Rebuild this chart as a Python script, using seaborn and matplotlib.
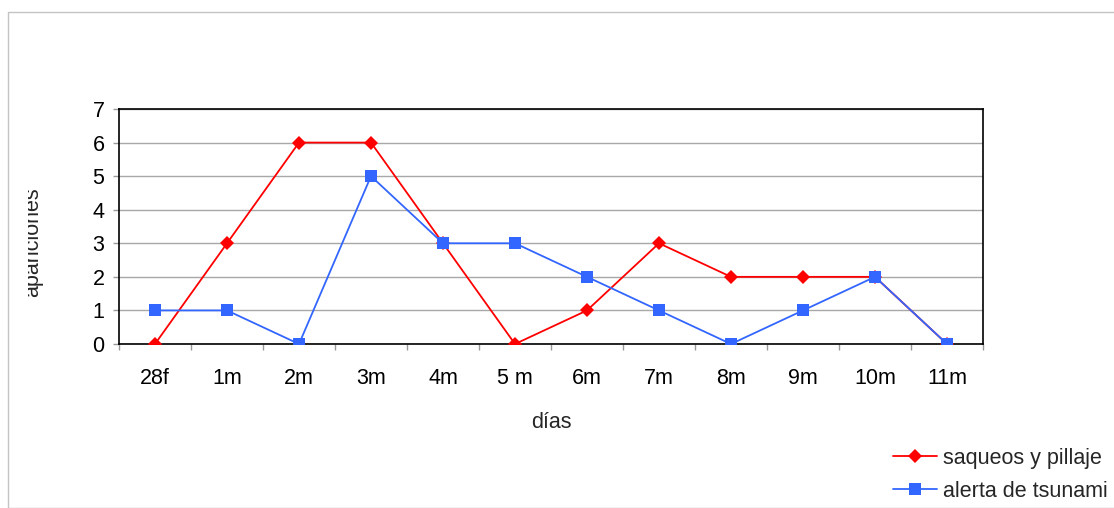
import matplotlib
matplotlib.use("Agg")
import matplotlib.pyplot as plt
from matplotlib.patches import Rectangle
from matplotlib.transforms import Bbox
from matplotlib.ticker import FixedLocator
import seaborn as sns
import pandas as pd

# Data
dias = ["28f", "1m", "2m", "3m", "4m", "5 m", "6m", "7m", "8m", "9m", "10m", "11m"]
saqueos = [0, 3, 6, 6, 3, 0, 1, 3, 2, 2, 2, 0]
alerta = [1, 1, 0, 5, 3, 3, 2, 1, 0, 1, 2, 0]
series_names = ["saqueos y pillaje", "alerta de tsunami"]

sns.set_theme(style="white")
plt.rcParams["font.family"] = ["Liberation Sans", "DejaVu Sans"]

FS = 15.5
W, H = 1114, 508
fig = plt.figure(figsize=(W / 100, H / 100), dpi=100)
fig.patch.set_facecolor("white")

# light outer border of the chart area
fig.patches.append(Rectangle((8 / W, 0), 2, 1 - 12 / H, transform=fig.transFigure,
                             fill=False, edgecolor="#c4c4c4", linewidth=1.0))

ax = fig.add_axes([119 / W, 1 - 344 / H, (983 - 119) / W, (344 - 109) / H])

df_s = pd.DataFrame({"dia": dias, "valor": saqueos, "pos": range(len(dias))})
df_a = pd.DataFrame({"dia": dias, "valor": alerta, "pos": range(len(dias))})

sns.lineplot(data=df_s, x="pos", y="valor", ax=ax, color="#ff0000", linewidth=1.3,
             marker="D", markersize=7, markeredgewidth=0, label=series_names[0],
             sort=False, zorder=3)
sns.lineplot(data=df_a, x="pos", y="valor", ax=ax, color="#3366ff", linewidth=1.3,
             marker="s", markersize=8, markeredgewidth=0, label=series_names[1],
             sort=False, zorder=4)

ax.set_xlim(-0.5, len(dias) - 0.5)
ax.set_ylim(0, 7)
ax.set_yticks(range(0, 8))
ax.set_xticks(range(len(dias)))
ax.set_xticklabels(dias)
ax.xaxis.set_minor_locator(FixedLocator([i - 0.5 for i in range(len(dias) + 1)]))

ax.grid(axis="y", color="#a8a8a8", linewidth=1.0)
ax.set_axisbelow(True)
for sp in ax.spines.values():
    sp.set_visible(True)
    sp.set_color("black")
    sp.set_linewidth(1.2)

ax.tick_params(axis="y", which="major", left=True, length=4.5, width=1, color="#999999",
               pad=6, labelsize=FS, labelcolor="black")
ax.tick_params(axis="x", which="major", bottom=True, length=0, pad=17, labelsize=FS,
               labelcolor="black")
ax.tick_params(axis="x", which="minor", bottom=True, length=4.5, width=1, color="#999999")

ax.set_xlabel("")
ax.set_ylabel("")
ax.get_legend().remove()

fig.text(551 / W, 1 - 423 / H, "días", ha="center", va="center", fontsize=FS)

ylab = fig.text(33 / W, 1 - 242 / H, "apariciones", rotation=90, ha="center",
                va="center", fontsize=FS)
ylab.set_clip_box(Bbox.from_extents(28, 0, W, H))
ylab.set_clip_on(True)

handles, labels = ax.get_legend_handles_labels()
fig.legend(handles, labels, loc="upper left", bbox_to_anchor=(893 / W, 1 - 448 / H),
           frameon=False, fontsize=FS, borderpad=0, handlelength=2.05,
           handletextpad=0.25, labelspacing=0.55, borderaxespad=0)

fig.savefig("out.png", dpi=100, facecolor="white")
